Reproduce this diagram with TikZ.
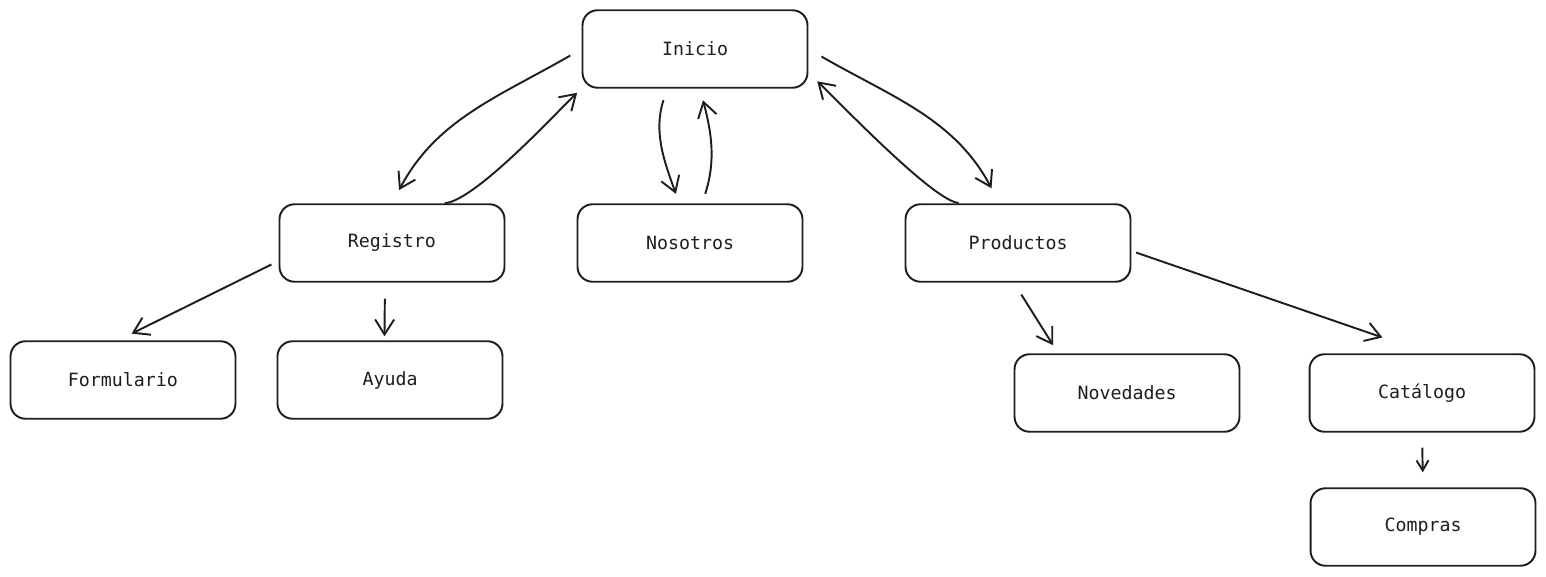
\documentclass[tikz,border=0pt]{standalone}
\usepackage{fontspec}
\setmonofont{DejaVu Sans Mono}
\usetikzlibrary{%
		arrows.meta%
	}
\definecolor{ink}{HTML}{1E1E1E}

\begin{document}
\begin{tikzpicture}[x=0.02cm, y=0.02cm,
		box/.style={draw=ink, line width=1.1pt, rounded corners=0.3cm, minimum width=4.5cm, minimum height=1.55cm, font=\ttfamily\fontsize{10.4}{12}\selectfont, text=ink},
		link/.style={draw=ink, line width=1.1pt, -{Straight Barb[length=0.3cm, width=0.38cm]}}
	]
			\useasboundingbox (0,0) rectangle (1546,-577);
			
			\node[box] (ini) at (695,-49) {Inicio};
			\node[box] (reg) at (392,-243) {Registro};
			\node[box] (nos) at (690,-243) {Nosotros};
			\node[box] (prod) at (1018,-243) {Productos};
			\node[box] (form) at (123,-380) {Formulario};
			\node[box] (ayu) at (390,-380) {Ayuda};
			\node[box] (nov) at (1127,-393) {Novedades};
			\node[box] (cat) at (1422,-393) {Catálogo};
			\node[box] (comp) at (1423,-527) {Compras};
			
			% inicio <-> secciones
			\draw[link, shorten <=0.26cm, shorten >=0.3cm] (ini.west) to [out=210, in=62] (reg.north);
			\draw[link, shorten >=0.12cm] (reg.37) to [out=5, in=223, looseness=0.45] (ini.south west);
			\draw[link, shorten <=0.24cm, shorten >=0.2cm] (ini.235) to [out=252, in=110] (nos.105);
			\draw[link, shorten <=0.2cm, shorten >=0.24cm] (nos.73) to [out=72, in=285] (ini.277);
			\draw[link, shorten <=0.3cm, shorten >=0.34cm] (ini.east) to [out=330, in=118] (prod.115);
			\draw[link, shorten <=0.24cm, shorten >=0.24cm] (prod.140) to [out=178, in=317, looseness=0.45] (ini.348);
			
			% subsecciones
			\draw[link, shorten <=0.16cm, shorten >=0.3cm] (reg.189) -- (form.97);
			\draw[link, shorten <=0.32cm, shorten >=0.08cm] (reg.260) -- (ayu.98);
			\draw[link, shorten <=0.28cm, shorten >=0.19cm] (prod.264) -- (nov.150);
			\draw[link, shorten <=0.1cm, shorten >=0.97cm] (prod.356) -- (cat.81);
			\draw[link, -{Straight Barb[length=0.2cm, width=0.24cm]}, shorten <=0.3cm, shorten >=0.3cm] (cat.south) -- (comp.north);
		\end{tikzpicture}
\end{document}
